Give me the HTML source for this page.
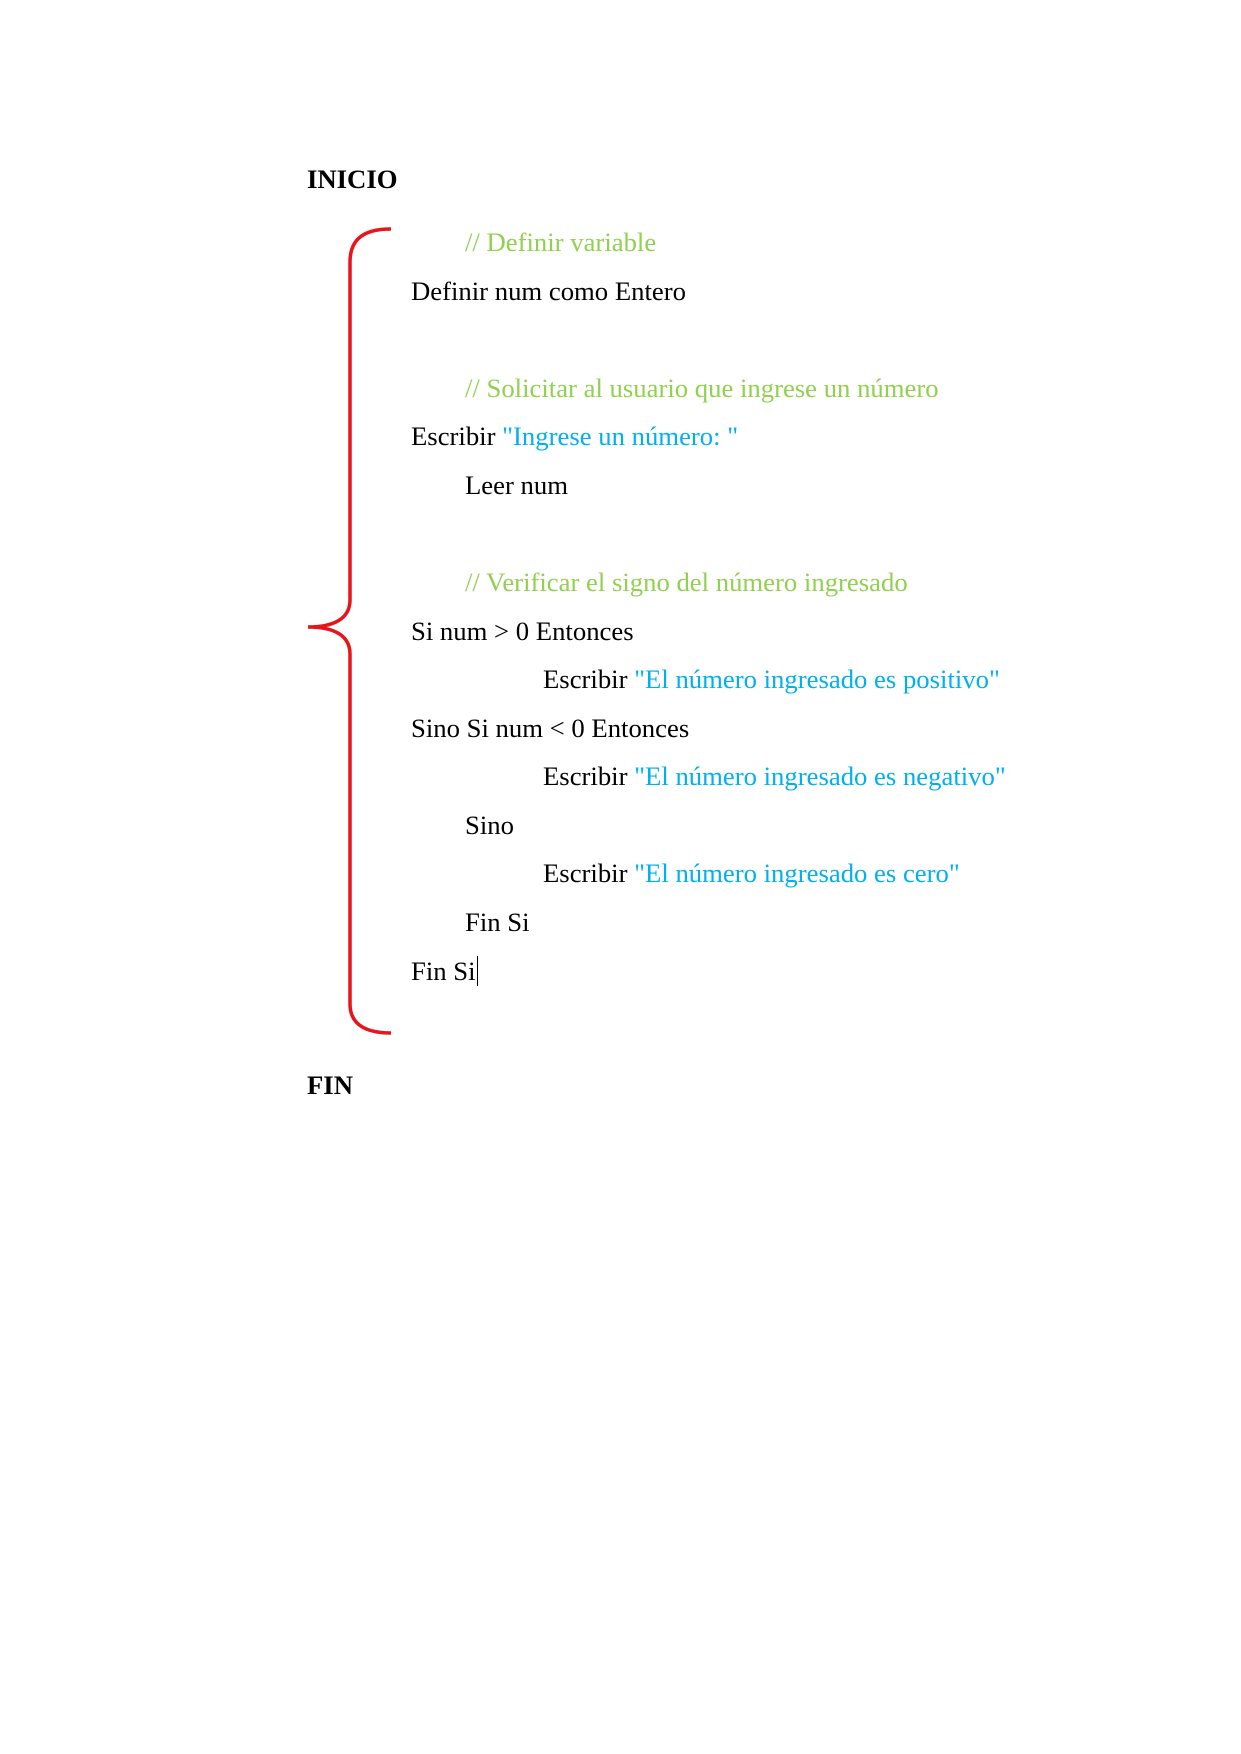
<!DOCTYPE html>
<html><head><meta charset="utf-8"><style>
body{margin:0;width:1241px;height:1754px;background:#fff;position:relative;font-family:"Liberation Serif",serif;font-size:26.7px;color:#000}
.l{position:absolute;line-height:30px;white-space:pre}
.g{color:#92d050}.b{color:#00b0f0}
</style></head><body>
<svg width="1241" height="1754" style="position:absolute;left:0;top:0">
<path d="M391 229 C368 229 350 236 350 262 L350 600 C350 618 335 627 308 627 C335 627 350 636 350 654 L350 1004 C350 1026 368 1033 391 1033" fill="none" stroke="#e8141b" stroke-width="3.5"/>
</svg>
<div class="l" style="left:307px;top:164px;font-weight:bold">INICIO</div>
<div class="l g" style="left:465px;top:227px">// Definir variable</div>
<div class="l" style="left:411px;top:276px">Definir num como Entero</div>
<div class="l g" style="left:465px;top:373px">// Solicitar al usuario que ingrese un número</div>
<div class="l" style="left:411px;top:421px">Escribir <span class="b">"Ingrese un número: "</span></div>
<div class="l" style="left:465px;top:470px">Leer num</div>
<div class="l g" style="left:465px;top:567px">// Verificar el signo del número ingresado</div>
<div class="l" style="left:411px;top:616px">Si num &gt; 0 Entonces</div>
<div class="l" style="left:543px;top:664px">Escribir <span class="b">"El número ingresado es positivo"</span></div>
<div class="l" style="left:411px;top:713px">Sino Si num &lt; 0 Entonces</div>
<div class="l" style="left:543px;top:761px">Escribir <span class="b">"El número ingresado es negativo"</span></div>
<div class="l" style="left:465px;top:810px">Sino</div>
<div class="l" style="left:543px;top:858px">Escribir <span class="b">"El número ingresado es cero"</span></div>
<div class="l" style="left:465px;top:907px">Fin Si</div>
<div class="l" style="left:411px;top:956px">Fin Si<span style="border-left:1.5px solid #000;margin-left:1px"></span></div>
<div class="l" style="left:307px;top:1070px;font-weight:bold">FIN</div>
</body></html>
